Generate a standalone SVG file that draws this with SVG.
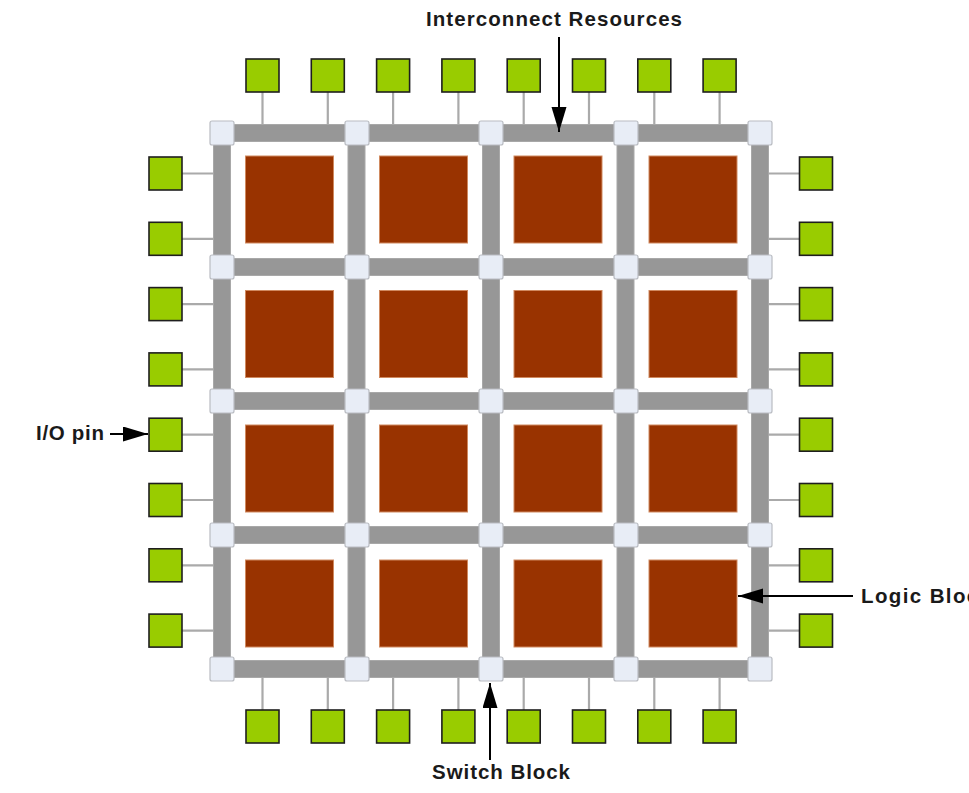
<svg xmlns="http://www.w3.org/2000/svg" width="969" height="793" viewBox="0 0 969 793">
<defs>
<style>
.bar{fill:#979797;stroke:#a8a8a8;stroke-width:1}
.sw{fill:#e8edf6;stroke:#b9bcc2;stroke-width:1.2}
.lb{fill:#993300;stroke:#d08a60;stroke-width:1}
.pin{fill:#99cc00;stroke:#1e1e1e;stroke-width:1.6}
.wire{stroke:#aaaaaa;stroke-width:2.2;fill:none}
.arr{stroke:#000;stroke-width:2;fill:none}
.lbl{font-family:"Liberation Sans",Arial,sans-serif;font-weight:bold;font-size:20.5px;fill:#1a1a1a}
</style>
<marker id="ah" markerUnits="userSpaceOnUse" markerWidth="26" markerHeight="16" refX="25" refY="7.5" orient="auto" viewBox="0 0 26 16">
<path d="M0,0 L25,7.5 L0,15 Z" fill="#000"/>
</marker>
</defs>
<rect width="969" height="793" fill="#fff"/>

<g id="wires">
<path class="wire" d="M262.5,92V124 M327.8,92V124 M393.1,92V124 M458.4,92V124 M523.7,92V124 M589,92V124 M654.3,92V124 M719.6,92V124"/>
<path class="wire" d="M262.5,677V710 M327.8,677V710 M393.1,677V710 M458.4,677V710 M523.7,677V710 M589,677V710 M654.3,677V710 M719.6,677V710"/>
<path class="wire" d="M182,173.5H213 M182,238.8H213 M182,304.1H213 M182,369.4H213 M182,434.7H213 M182,500H213 M182,565.3H213 M182,630.6H213"/>
<path class="wire" d="M769,173.5H799 M769,238.8H799 M769,304.1H799 M769,369.4H799 M769,434.7H799 M769,500H799 M769,565.3H799 M769,630.6H799"/>
</g>

<g id="interconnect">
<rect class="bar" x="222" y="124.5" width="538" height="17"/>
<rect class="bar" x="222" y="258.5" width="538" height="17"/>
<rect class="bar" x="222" y="392.5" width="538" height="17"/>
<rect class="bar" x="222" y="526.5" width="538" height="17"/>
<rect class="bar" x="222" y="660.5" width="538" height="17"/>
<rect class="bar" x="213.5" y="133" width="17" height="536"/>
<rect class="bar" x="348" y="133" width="17" height="536"/>
<rect class="bar" x="482.5" y="133" width="17" height="536"/>
<rect class="bar" x="617" y="133" width="17" height="536"/>
<rect class="bar" x="751.5" y="133" width="17" height="536"/>
</g>

<g id="switch-blocks">
<rect class="sw" x="210" y="121" width="24" height="24" rx="2"/>
<rect class="sw" x="345" y="121" width="24" height="24" rx="2"/>
<rect class="sw" x="479" y="121" width="24" height="24" rx="2"/>
<rect class="sw" x="614" y="121" width="24" height="24" rx="2"/>
<rect class="sw" x="748" y="121" width="24" height="24" rx="2"/>
<rect class="sw" x="210" y="255" width="24" height="24" rx="2"/>
<rect class="sw" x="345" y="255" width="24" height="24" rx="2"/>
<rect class="sw" x="479" y="255" width="24" height="24" rx="2"/>
<rect class="sw" x="614" y="255" width="24" height="24" rx="2"/>
<rect class="sw" x="748" y="255" width="24" height="24" rx="2"/>
<rect class="sw" x="210" y="389" width="24" height="24" rx="2"/>
<rect class="sw" x="345" y="389" width="24" height="24" rx="2"/>
<rect class="sw" x="479" y="389" width="24" height="24" rx="2"/>
<rect class="sw" x="614" y="389" width="24" height="24" rx="2"/>
<rect class="sw" x="748" y="389" width="24" height="24" rx="2"/>
<rect class="sw" x="210" y="523" width="24" height="24" rx="2"/>
<rect class="sw" x="345" y="523" width="24" height="24" rx="2"/>
<rect class="sw" x="479" y="523" width="24" height="24" rx="2"/>
<rect class="sw" x="614" y="523" width="24" height="24" rx="2"/>
<rect class="sw" x="748" y="523" width="24" height="24" rx="2"/>
<rect class="sw" x="210" y="657" width="24" height="24" rx="2"/>
<rect class="sw" x="345" y="657" width="24" height="24" rx="2"/>
<rect class="sw" x="479" y="657" width="24" height="24" rx="2"/>
<rect class="sw" x="614" y="657" width="24" height="24" rx="2"/>
<rect class="sw" x="748" y="657" width="24" height="24" rx="2"/>
</g>

<g id="logic-blocks">
<rect class="lb" x="245.5" y="156" width="88" height="87"/>
<rect class="lb" x="379.5" y="156" width="88" height="87"/>
<rect class="lb" x="514" y="156" width="88" height="87"/>
<rect class="lb" x="649" y="156" width="88" height="87"/>
<rect class="lb" x="245.5" y="290.5" width="88" height="87"/>
<rect class="lb" x="379.5" y="290.5" width="88" height="87"/>
<rect class="lb" x="514" y="290.5" width="88" height="87"/>
<rect class="lb" x="649" y="290.5" width="88" height="87"/>
<rect class="lb" x="245.5" y="425" width="88" height="87"/>
<rect class="lb" x="379.5" y="425" width="88" height="87"/>
<rect class="lb" x="514" y="425" width="88" height="87"/>
<rect class="lb" x="649" y="425" width="88" height="87"/>
<rect class="lb" x="245.5" y="560" width="88" height="87"/>
<rect class="lb" x="379.5" y="560" width="88" height="87"/>
<rect class="lb" x="514" y="560" width="88" height="87"/>
<rect class="lb" x="649" y="560" width="88" height="87"/>
</g>

<g id="io-pins">
<rect class="pin" x="246" y="59" width="33" height="33"/>
<rect class="pin" x="311.3" y="59" width="33" height="33"/>
<rect class="pin" x="376.6" y="59" width="33" height="33"/>
<rect class="pin" x="441.9" y="59" width="33" height="33"/>
<rect class="pin" x="507.2" y="59" width="33" height="33"/>
<rect class="pin" x="572.5" y="59" width="33" height="33"/>
<rect class="pin" x="637.8" y="59" width="33" height="33"/>
<rect class="pin" x="703.1" y="59" width="33" height="33"/>
<rect class="pin" x="246" y="710" width="33" height="33"/>
<rect class="pin" x="311.3" y="710" width="33" height="33"/>
<rect class="pin" x="376.6" y="710" width="33" height="33"/>
<rect class="pin" x="441.9" y="710" width="33" height="33"/>
<rect class="pin" x="507.2" y="710" width="33" height="33"/>
<rect class="pin" x="572.5" y="710" width="33" height="33"/>
<rect class="pin" x="637.8" y="710" width="33" height="33"/>
<rect class="pin" x="703.1" y="710" width="33" height="33"/>
<rect class="pin" x="149" y="157" width="33" height="33"/>
<rect class="pin" x="149" y="222.3" width="33" height="33"/>
<rect class="pin" x="149" y="287.6" width="33" height="33"/>
<rect class="pin" x="149" y="352.9" width="33" height="33"/>
<rect class="pin" x="149" y="418.2" width="33" height="33"/>
<rect class="pin" x="149" y="483.5" width="33" height="33"/>
<rect class="pin" x="149" y="548.8" width="33" height="33"/>
<rect class="pin" x="149" y="614.1" width="33" height="33"/>
<rect class="pin" x="799.5" y="157" width="33" height="33"/>
<rect class="pin" x="799.5" y="222.3" width="33" height="33"/>
<rect class="pin" x="799.5" y="287.6" width="33" height="33"/>
<rect class="pin" x="799.5" y="352.9" width="33" height="33"/>
<rect class="pin" x="799.5" y="418.2" width="33" height="33"/>
<rect class="pin" x="799.5" y="483.5" width="33" height="33"/>
<rect class="pin" x="799.5" y="548.8" width="33" height="33"/>
<rect class="pin" x="799.5" y="614.1" width="33" height="33"/>
</g>

<g id="connectors">
<line class="arr" x1="559" y1="37" x2="559" y2="132" marker-end="url(#ah)"/>
<line class="arr" x1="110" y1="434" x2="148" y2="434" marker-end="url(#ah)"/>
<line class="arr" x1="853" y1="596" x2="738" y2="596" marker-end="url(#ah)"/>
<line class="arr" x1="490" y1="760" x2="490" y2="683" marker-end="url(#ah)"/>
</g>

<g id="labels">
<text class="lbl" x="426" y="25.5" textLength="256" lengthAdjust="spacing">Interconnect Resources</text>
<text class="lbl" x="36" y="440" textLength="68" lengthAdjust="spacing">I/O pin</text>
<text class="lbl" x="861" y="602.5" textLength="130" lengthAdjust="spacing">Logic Block</text>
<text class="lbl" x="432" y="778.5" textLength="138" lengthAdjust="spacing">Switch Block</text>
</g>
</svg>
